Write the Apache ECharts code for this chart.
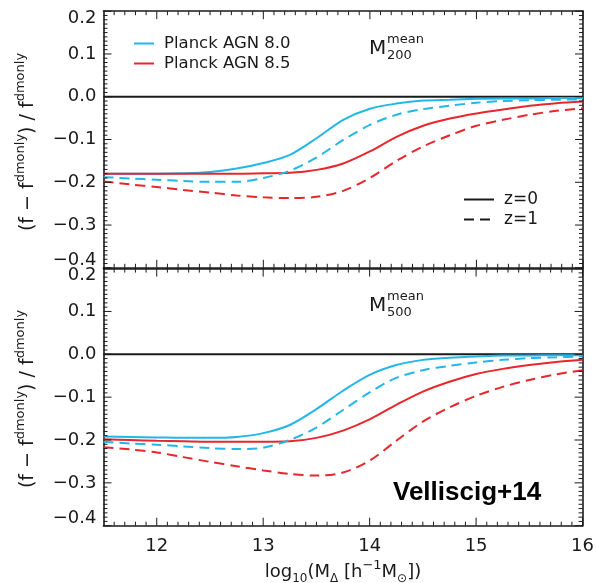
<!DOCTYPE html>
<html><head><meta charset="utf-8">
<script src="https://cdn.jsdelivr.net/npm/echarts@6/dist/echarts.min.js"></script>
<style>html,body{margin:0;padding:0;background:#fff}#c{width:597px;height:583px}</style>
</head><body><div id="c"></div>
<script>
// ---- data ----
const xs = [11.5, 11.75, 12, 12.25, 12.5, 12.75, 13, 13.25, 13.5, 13.75, 14, 14.25, 14.5, 14.75, 15, 15.25, 15.5, 15.75, 16];
const xTickLabels = [12, 13, 14, 15, 16];
const yTickLabels = [-0.4, -0.3, -0.2, -0.1, 0.0, 0.1, 0.2];
const zeroX = [11.5, 16];
const zeroY = [0, 0];
// M200 panel
const agn80_z0_m200 = [-0.180,-0.180,-0.180,-0.179,-0.176,-0.168,-0.155,-0.136,-0.097,-0.054,-0.028,-0.016,-0.009,-0.007,-0.005,-0.004,-0.004,-0.003,-0.003];
const agn80_z1_m200 = [-0.188,-0.191,-0.194,-0.197,-0.199,-0.199,-0.190,-0.173,-0.142,-0.101,-0.066,-0.042,-0.029,-0.021,-0.014,-0.010,-0.008,-0.007,-0.006];
const agn85_z0_m200 = [-0.180,-0.180,-0.180,-0.180,-0.180,-0.180,-0.179,-0.178,-0.171,-0.156,-0.128,-0.094,-0.068,-0.051,-0.039,-0.030,-0.021,-0.015,-0.011];
const agn85_z1_m200 = [-0.198,-0.205,-0.211,-0.218,-0.224,-0.231,-0.235,-0.237,-0.234,-0.220,-0.190,-0.150,-0.116,-0.090,-0.068,-0.054,-0.042,-0.033,-0.027];
// M500 panel
const agn80_z0_m500 = [-0.192,-0.193,-0.194,-0.195,-0.195,-0.193,-0.184,-0.165,-0.128,-0.085,-0.048,-0.025,-0.013,-0.008,-0.005,-0.003,-0.003,-0.002,-0.002];
const agn80_z1_m500 = [-0.204,-0.208,-0.211,-0.215,-0.219,-0.221,-0.218,-0.200,-0.171,-0.130,-0.089,-0.055,-0.037,-0.027,-0.019,-0.013,-0.009,-0.007,-0.005];
const agn85_z0_m500 = [-0.198,-0.200,-0.202,-0.203,-0.204,-0.204,-0.204,-0.203,-0.195,-0.178,-0.152,-0.118,-0.087,-0.064,-0.046,-0.034,-0.025,-0.018,-0.013];
const agn85_z1_m500 = [-0.217,-0.222,-0.229,-0.240,-0.251,-0.261,-0.271,-0.279,-0.283,-0.276,-0.248,-0.202,-0.157,-0.124,-0.097,-0.076,-0.060,-0.047,-0.037];

// ---- axis ranges / layout / styles ----
const X_MIN = 11.5, X_MAX = 16, Y_MIN = -0.4, Y_MAX = 0.2;
const GL = 103.5, GW = 479.5;
const GRIDS = [{ top: 11.2, height: 256.6 }, { top: 268.6, height: 257.1 }];
const BLUE = '#22b7e8', RED = '#e8262b', INK = '#1a1a1a';
const FONT = 'DejaVu Sans';
const DASH = [10, 6];

function zip(a, b) { return a.map((v, i) => [v, b[i]]); }
function fmtY(v) { const s = Math.abs(v).toFixed(1); return (v < -1e-9 ? '\u2212' : '') + s; }

// minor tick positions (0.1 in x, 0.01 in y) for the inward tick marks
const xMinorTicks = [], yMinorTicks = [];
for (let i = 116; i < 160; i++) if (i % 10) xMinorTicks.push(i / 10);
for (let i = -39; i < 20; i++) if (i % 10) yMinorTicks.push(i / 100);

const hidden = { show: false };
const frame = { show: true, onZero: false, lineStyle: { color: INK, width: 1.6 } };

function xAxes(g, showLabels) {
  const base = { type: 'value', gridIndex: g, min: X_MIN, max: X_MAX, interval: 0.5, splitLine: hidden, minorSplitLine: hidden, axisTick: hidden, minorTick: hidden, axisLine: frame };
  return [
    Object.assign({}, base, {
      position: 'bottom',
      axisLabel: { show: showLabels, customValues: xTickLabels, margin: 12, fontFamily: FONT, fontSize: 18, color: INK }
    }),
    Object.assign({}, base, { position: 'top', axisLabel: hidden })
  ];
}
function yAxes(g) {
  const base = { type: 'value', gridIndex: g, min: Y_MIN, max: Y_MAX, interval: 0.1, splitLine: hidden, minorSplitLine: hidden, axisTick: hidden, minorTick: hidden, axisLine: frame };
  return [
    Object.assign({}, base, {
      position: 'left',
      axisLabel: {
        show: true, margin: 7, fontFamily: FONT, fontSize: 18, color: INK,
        formatter: function (v) {
          const s = fmtY(v);
          if (Math.abs(v - Y_MAX) < 1e-6) return '{lo|' + s + '}';
          if (Math.abs(v - Y_MIN) < 1e-6) return '{hi|' + s + '}';
          return s;
        },
        rich: {
          lo: { padding: [14, 0, 0, 0], fontFamily: FONT, fontSize: 18, color: INK },
          hi: { padding: [0, 0, 14, 0], fontFamily: FONT, fontSize: 18, color: INK }
        }
      }
    }),
    Object.assign({}, base, { position: 'right', axisLabel: hidden })
  ];
}

// inward ticks on all four edges, placed through the grid's own scales
function tickSeries(g) {
  const data = [];
  xTickLabels.forEach(v => data.push([0, v, 1]));
  xMinorTicks.forEach(v => data.push([0, v, 0]));
  yTickLabels.forEach(v => data.push([1, v, 1]));
  yMinorTicks.forEach(v => data.push([1, v, 0]));
  return {
    type: 'custom', name: 'ticks' + g, xAxisIndex: g * 2, yAxisIndex: g * 2, data, silent: true, clip: false, z: 5,
    renderItem: function (params, api) {
      const kind = api.value(0), v = api.value(1), len = api.value(2) ? 8 : 4;
      const st = { stroke: INK, lineWidth: 1 };
      if (kind === 0) {
        const b = api.coord([v, Y_MIN]), t = api.coord([v, Y_MAX]);
        return { type: 'group', children: [
          { type: 'line', shape: { x1: b[0], y1: b[1], x2: b[0], y2: b[1] - len }, style: st },
          { type: 'line', shape: { x1: t[0], y1: t[1], x2: t[0], y2: t[1] + len }, style: st }
        ] };
      }
      const l = api.coord([X_MIN, v]), r = api.coord([X_MAX, v]);
      return { type: 'group', children: [
        { type: 'line', shape: { x1: l[0], y1: l[1], x2: l[0] + len, y2: l[1] }, style: st },
        { type: 'line', shape: { x1: r[0], y1: r[1], x2: r[0] - len, y2: r[1] }, style: st }
      ] };
    }
  };
}
function lineSeries(name, data, color, dashed, gi) {
  return {
    name, type: 'line', xAxisIndex: gi * 2, yAxisIndex: gi * 2, data,
    symbol: 'none', smooth: 0.3, clip: true,
    lineStyle: { color, width: 2, type: dashed ? DASH : 'solid' },
    itemStyle: { color }, emphasis: { disabled: true }, silent: true
  };
}

const supRich = {
  sup: { fontFamily: FONT, fontSize: 13, fill: INK, verticalAlign: 'top' },
  sub: { fontFamily: FONT, fontSize: 12, fill: INK, verticalAlign: 'bottom' }
};
function yTitle(cy) {
  return {
    type: 'text', x: 28, y: cy, rotation: Math.PI / 2,
    style: {
      text: '(f \u2212 f{sup|dmonly}) / f{sup|dmonly}',
      fontFamily: FONT, fontSize: 19, fill: INK, align: 'center', verticalAlign: 'middle',
      lineHeight: 28, rich: supRich
    }
  };
}
function mLabel(dy, sub) {
  return [
    { type: 'text', x: 369, y: 49 + dy, style: { text: 'M', fontFamily: FONT, fontSize: 20, fill: INK, align: 'left', verticalAlign: 'middle' } },
    { type: 'text', x: 387, y: 39.5 + dy, style: { text: 'mean', fontFamily: FONT, fontSize: 13, fill: INK, align: 'left', verticalAlign: 'middle' } },
    { type: 'text', x: 387, y: 56 + dy, style: { text: sub, fontFamily: FONT, fontSize: 13, fill: INK, align: 'left', verticalAlign: 'middle' } }
  ];
}

const option = {
  animation: false,
  backgroundColor: '#fff',
  grid: GRIDS.map(g => ({ show: false, left: GL, width: GW, top: g.top, height: g.height })),
  xAxis: [...xAxes(0, false), ...xAxes(1, true)],
  yAxis: [...yAxes(0), ...yAxes(1)],
  legend: [
    {
      left: 133, top: 35, orient: 'vertical', padding: 0, itemGap: 3, itemWidth: 20, itemHeight: 14,
      data: ['Planck AGN 8.0', 'Planck AGN 8.5'], selectedMode: false, itemStyle: { opacity: 0 },
      textStyle: { fontFamily: FONT, fontSize: 16.5, color: INK, padding: [0, 0, 0, 5] }
    },
    {
      left: 463, top: 191, orient: 'vertical', padding: 0, itemGap: 3, itemWidth: 30, itemHeight: 14,
      data: ['z=0', 'z=1'], selectedMode: false, itemStyle: { opacity: 0 },
      textStyle: { fontFamily: FONT, fontSize: 17, color: INK, padding: [0, 0, 0, 5] }
    }
  ],
  series: [
    tickSeries(0), tickSeries(1),
    { name: 'zero200', type: 'line', xAxisIndex: 0, yAxisIndex: 0, data: zip(zeroX, zeroY), symbol: 'none', silent: true, lineStyle: { color: INK, width: 2 } },
    { name: 'zero500', type: 'line', xAxisIndex: 2, yAxisIndex: 2, data: zip(zeroX, zeroY), symbol: 'none', silent: true, lineStyle: { color: INK, width: 2 } },
    lineSeries('Planck AGN 8.0', zip(xs, agn80_z0_m200), BLUE, false, 0),
    lineSeries('Planck AGN 8.5', zip(xs, agn85_z0_m200), RED, false, 0),
    lineSeries('AGN 8.0 z=1 M200', zip(xs, agn80_z1_m200), BLUE, true, 0),
    lineSeries('AGN 8.5 z=1 M200', zip(xs, agn85_z1_m200), RED, true, 0),
    lineSeries('AGN 8.0 z=0 M500', zip(xs, agn80_z0_m500), BLUE, false, 1),
    lineSeries('AGN 8.5 z=0 M500', zip(xs, agn85_z0_m500), RED, false, 1),
    lineSeries('AGN 8.0 z=1 M500', zip(xs, agn80_z1_m500), BLUE, true, 1),
    lineSeries('AGN 8.5 z=1 M500', zip(xs, agn85_z1_m500), RED, true, 1),
    lineSeries('z=0', [], INK, false, 0),
    lineSeries('z=1', [], INK, true, 0)
  ],
  graphic: [
    yTitle(142), yTitle(399),
    ...mLabel(0, '200'), ...mLabel(257, '500'),
    { type: 'text', x: 393, y: 493, style: { text: 'Velliscig+14', fontFamily: 'Liberation Sans', fontWeight: 'bold', fontSize: 26, fill: '#000', align: 'left', verticalAlign: 'middle' } },
    {
      type: 'text', x: 343, y: 572,
      style: {
        text: 'log{sub|10}(M{sub|\u0394} [h{sup|\u22121}M{sub|\u2299}])',
        fontFamily: FONT, fontSize: 18, fill: INK, align: 'center', verticalAlign: 'middle', lineHeight: 26, rich: supRich
      }
    }
  ]
};
const chart = echarts.init(document.getElementById('c'), null, { renderer: 'canvas' });
chart.setOption(option);
</script></body></html>
